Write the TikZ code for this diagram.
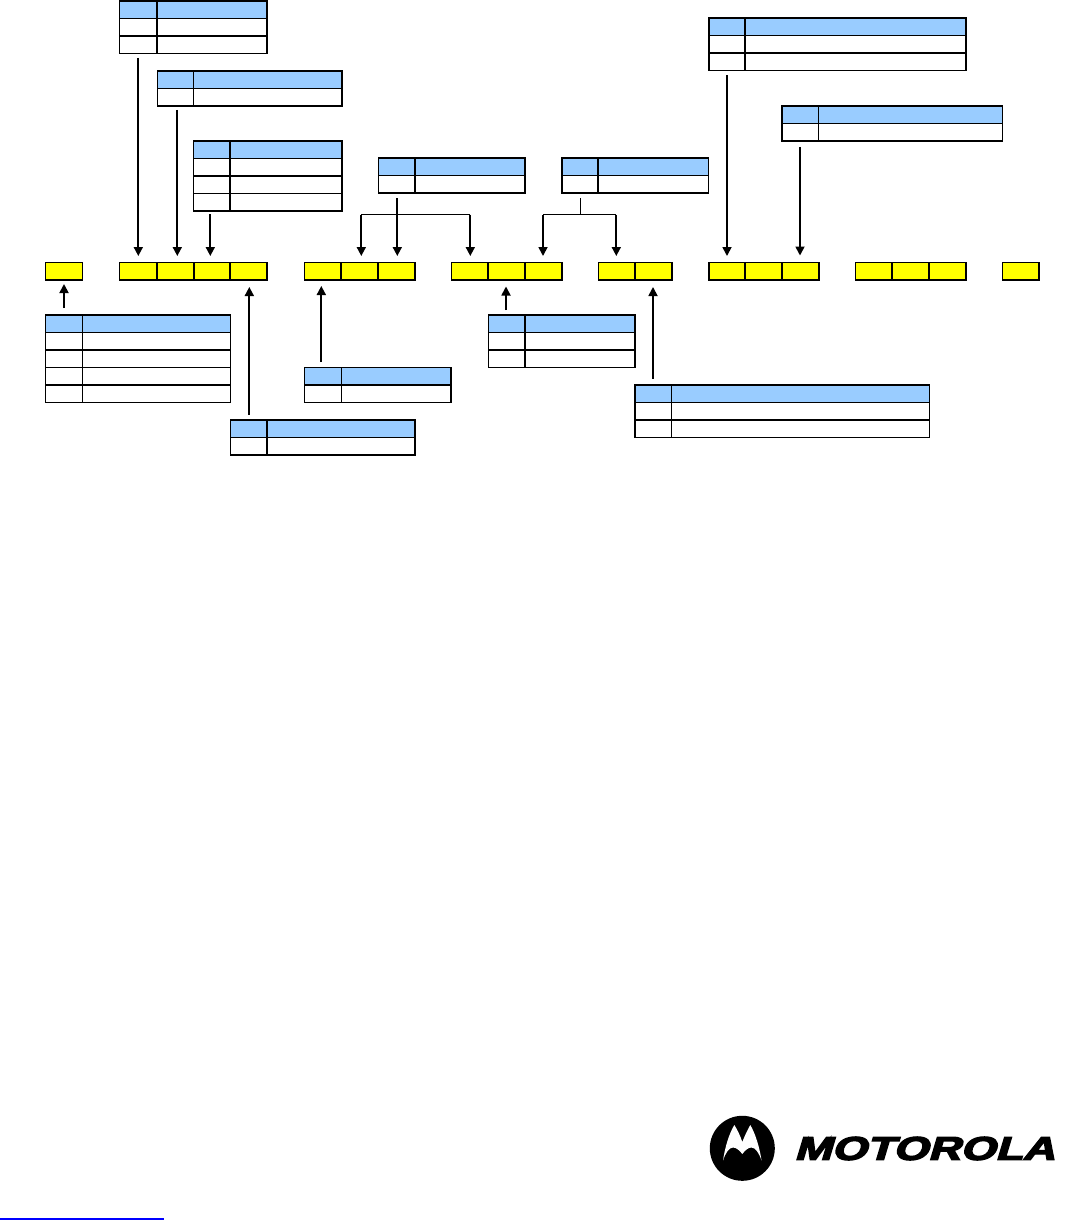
\documentclass[tikz,border=0pt]{standalone}
\usepackage{fontspec}
\usepackage{graphicx}
\usetikzlibrary{arrows.meta}
\newfontfamily\logofont[FakeSlant=0.22,FakeBold=4]{Liberation Sans Bold}
\definecolor{headblue}{HTML}{99CCFF}
\definecolor{byteyellow}{HTML}{FFFF00}
\definecolor{linkblue}{HTML}{0000FF}
\tikzset{
  gridline/.style={line width=1.05pt,draw=black},
  tableframe/.style={draw=black,line width=1.2pt,inner sep=0pt,outer sep=0pt,anchor=north west},
  bytecell/.style={draw=black,fill=byteyellow,line width=1.2pt,inner sep=0pt,outer sep=0pt,minimum height=13.125pt,anchor=north west},
  conn/.style={line width=1.3pt,draw=black},
  connarrow/.style={conn,-{Triangle[width=6.75pt,length=6.75pt]}},
  bracket/.style={line width=0.85pt,draw=black},
}
% \fieldtable{name}{left}{split}{right}{top}{number of rows below the header}
\newcommand{\fieldtable}[6]{%
  \pgfmathsetmacro{\tbot}{#5+17.5*(#6+1)}%
  \pgfmathsetmacro{\thead}{#5+17.5}%
  \pgfmathsetmacro{\tleft}{#2+0.5}%
  \fill[headblue] (\tleft,#5) rectangle (#4,\thead);
  \draw[gridline] (#3,#5) -- (#3,\tbot);
  \foreach \r in {1,...,#6}{\draw[gridline] (\tleft,{#5+17.5*\r}) -- (#4,{#5+17.5*\r});}
  \node[tableframe,minimum width={(#4-\tleft)*0.75pt},minimum height={(#6+1)*17.5*0.75pt}] (#1) at (\tleft,#5) {};
}
\newcommand{\byterow}[2]{%
  \foreach \a/\b [count=\i] in {#2}{%
    \node[bytecell,minimum width={(\b-\a-0.5)*0.75pt}] (#1\i) at ({\a+0.5},262.5) {};}%
}
\begin{document}
\begin{tikzpicture}[x=0.75pt,y=-0.75pt]
\useasboundingbox (0,0) rectangle (1068,1220);
\fill[white] (0,0) rectangle (1068,1220);

% field tables
\fieldtable{ta}{119}{157}{267}{1}{2}
\fieldtable{tb}{157}{193.5}{342}{71}{1}
\fieldtable{tc}{193}{230}{342}{141}{3}
\fieldtable{td}{378}{415}{525}{158}{1}
\fieldtable{te}{561.5}{598}{708.5}{158}{1}
\fieldtable{tf}{708.5}{745}{966}{18}{2}
\fieldtable{tg}{781.5}{818.5}{1002.5}{106}{1}
\fieldtable{th}{45}{82.5}{230.5}{315}{4}
\fieldtable{ti}{304}{341.5}{451}{367.5}{1}
\fieldtable{tj}{230}{267}{415}{420}{1}
\fieldtable{tk}{488}{525}{635}{315}{2}
\fieldtable{tl}{634.5}{671.5}{929.5}{385}{2}

% byte rows
\byterow{ba}{45/82.5}
\byterow{bb}{119/157,157/193.5,193.5/230,230/267}
\byterow{bc}{304/341,341/378,378/415}
\byterow{bd}{451/488,488/525,525/562}
\byterow{be}{598/635,635/672}
\byterow{bf}{708.5/745,745/782,782/819}
\byterow{bg}{855/892,892/929,929/966}
\byterow{bh}{1002/1039}

% connector ends
\foreach \n/\x/\ya/\yb in {
  a/138.3/58/256, b/177.3/110/256, c/210.3/214/256,
  f/727/75.5/256, g/800/147/255.5,
  h/64/308/284, i/249.3/414.5/287, j/321.3/362/286,
  k/506/310/286.5, l/653/378.5/287, d/397.3/198/256}{
  \coordinate (s\n) at (\x,\ya);
  \coordinate (e\n) at (\x,\yb);
  \draw[connarrow] (s\n) -- (e\n);
}
% forked connectors
\coordinate (dl) at (361.3,214.5);
\coordinate (dr) at (470.3,214.5);
\coordinate (dle) at (361.3,256);
\coordinate (dre) at (470.3,256);
\coordinate (el) at (543,214.5);
\coordinate (er) at (616.3,214.5);
\coordinate (eli) at (543,256);
\coordinate (ere) at (616.3,256);
\coordinate (es) at (580.5,198);
\coordinate (ej) at (580.5,214.5);
\draw[bracket] (dl) -- (dr);
\draw[connarrow] (dl) -- (dle);
\draw[connarrow] (dr) -- (dre);
\draw[bracket] (es) -- (ej);
\draw[bracket] (el) -- (er);
\draw[connarrow] (el) -- (eli);
\draw[connarrow] (er) -- (ere);

% logo emblem
\fill[black] (742.3,1148.3) circle[radius=32.5];
\fill[white] (723,1160.5)
  .. controls (725,1147) and (729,1134) .. (734.3,1125)
  .. controls (737,1129) and (740,1135) .. (742.3,1142)
  .. controls (745,1135) and (748,1129) .. (750.3,1125)
  .. controls (755.5,1134) and (759.5,1147) .. (761.5,1160.5)
  .. controls (759,1153) and (755.5,1147.5) .. (751.5,1147.5)
  .. controls (748,1147.5) and (745,1150.5) .. (742.3,1154)
  .. controls (739.5,1150.5) and (736.5,1147.5) .. (733,1147.5)
  .. controls (729,1147.5) and (725.5,1153) .. (723,1160.5) -- cycle;

% logo wordmark
\node[inner sep=0pt,anchor=center] (wordmark) at (924.5,1148.5)
  {\resizebox{195.5pt}{17.2pt}{\logofont MOTOROLA}};

% link underline
\coordinate (ula) at (0,1219);
\coordinate (ulb) at (164,1219);
\draw[linkblue,line width=1.5pt] (ula) -- (ulb);
\end{tikzpicture}
\end{document}
